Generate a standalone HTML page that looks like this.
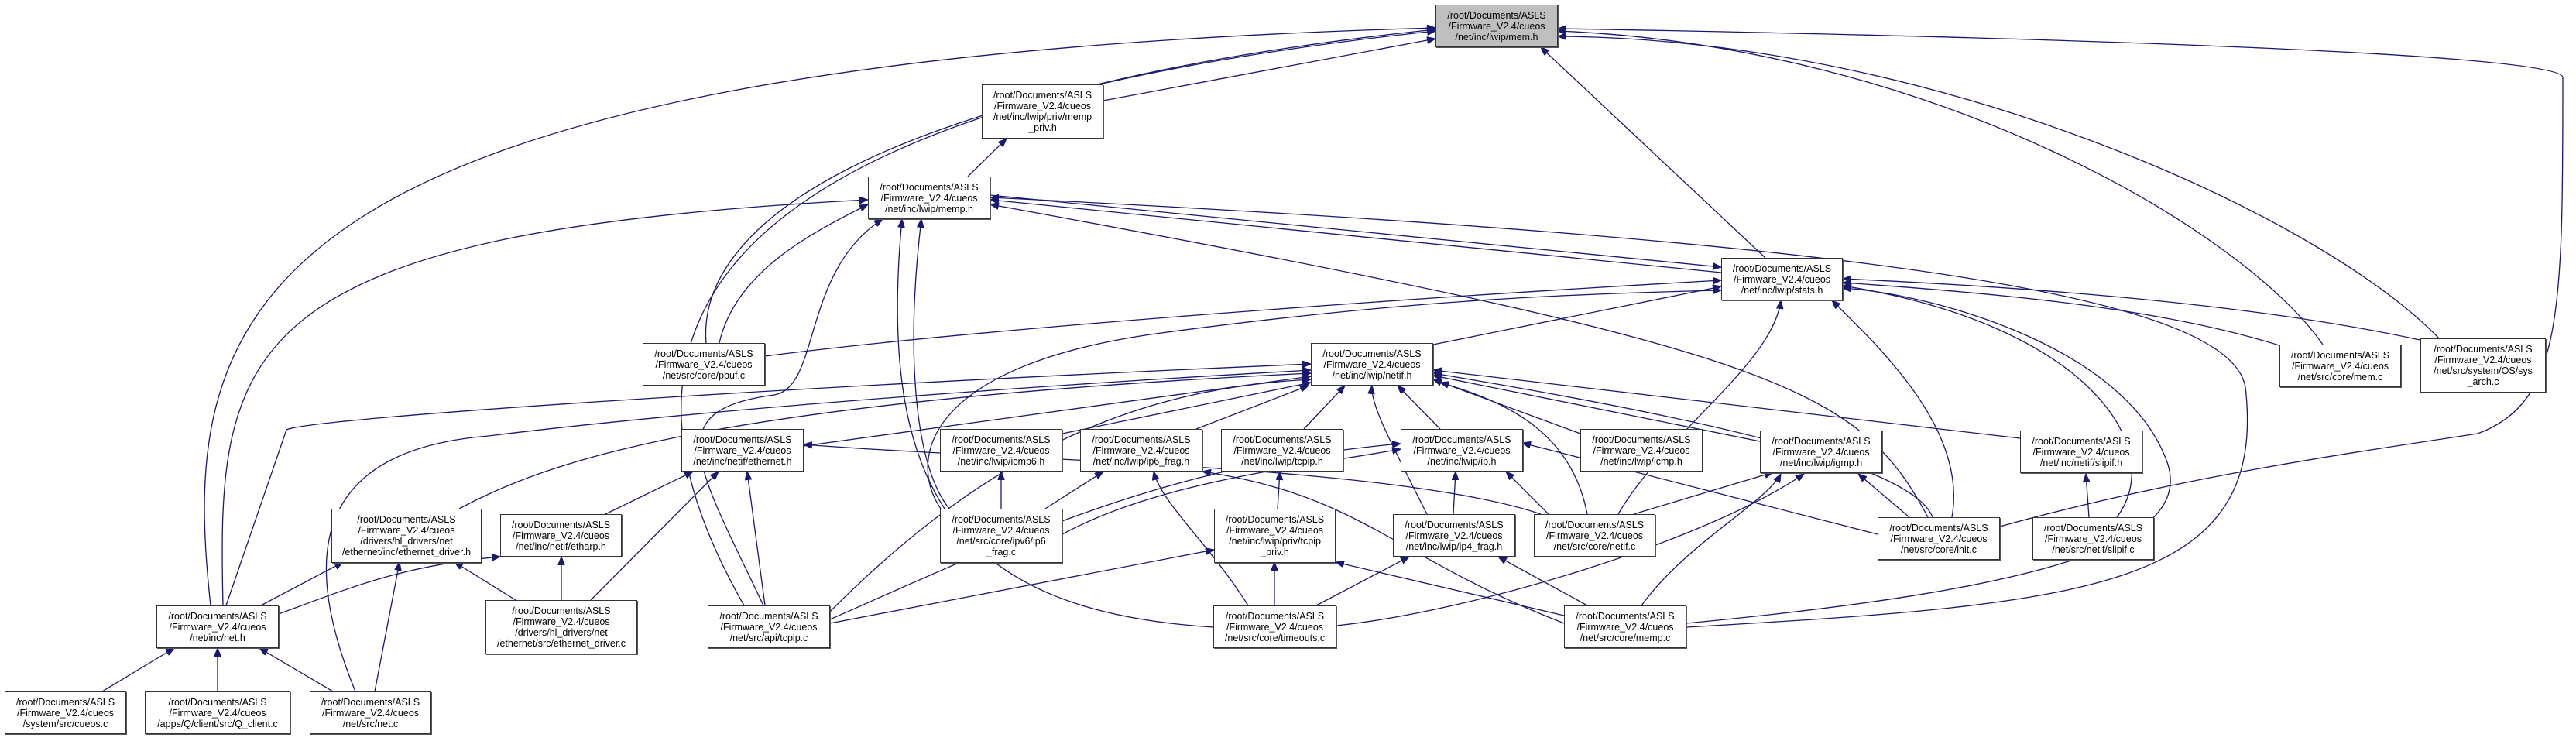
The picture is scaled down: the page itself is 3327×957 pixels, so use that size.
<!DOCTYPE html>
<html><head><meta charset="utf-8">
<style>
html,body{margin:0;padding:0;background:#fff;}
body{width:3327px;height:957px;position:relative;overflow:hidden;font-family:"Liberation Sans",Arial,sans-serif;}
.n{position:absolute;box-sizing:border-box;border:1.5px solid #333;background:#fff;display:flex;align-items:center;justify-content:center;text-align:center;font-size:12.5px;line-height:14px;color:#000;box-shadow:1px 1px 0 #555;}
.g{background:#bfbfbf;}
svg{position:absolute;left:0;top:0;}
path{fill:none;stroke:#191970;stroke-width:1.3;}
</style></head><body>
<svg width="3327" height="957" viewBox="0 0 3327 957">
<defs><marker id="a" markerUnits="userSpaceOnUse" markerWidth="12" markerHeight="9" refX="11" refY="4.5" orient="auto"><path d="M0,0 L11,4.5 L0,9 z" style="fill:#191970;stroke:#191970;stroke-width:1"/></marker></defs>
<g marker-end="url(#a)">
<!-- to mem.h -->
<path d="M272,782 C230,400 300,80 1854,36"/>
<path d="M912,443 C900,300 1100,120 1854,40"/>
<path d="M961,782 C800,500 780,150 1854,38"/>
<path d="M1425,130 L1854,50"/>
<path d="M2280,333 L1990,61"/>
<path d="M2583,680 C2800,620 3000,590 3200,560 C3310,520 3310,400 3310,100 C3310,60 2200,40 2012,37"/>
<path d="M3000,445 C2900,300 2500,60 2012,40"/>
<path d="M3150,437 C3000,280 2500,50 2012,47"/>
<!-- memp_priv -->
<path d="M1250,228 L1300,179"/>
<!-- to memp.h -->
<path d="M288,782 C280,450 300,300 1121,258"/>
<path d="M929,443 C950,350 1050,300 1121,264"/>
<path d="M986,782 C900,600 850,530 1000,510 C1060,500 1035,350 1140,283"/>
<path d="M1226,657 C1180,600 1170,450 1190,283"/>
<path d="M1567,810 C1250,790 1130,650 1165,283"/>
<path d="M2223,352 L1279,258"/>
<path d="M2490,668 C2400,500 2300,450 1279,264"/>
<path d="M2178,810 C2700,780 2930,760 2900,500 C2880,380 2400,310 1279,255"/>
<!-- to stats.h -->
<path d="M1279,252 L2223,345"/>
<path d="M988,460 C1300,420 1900,380 2223,362"/>
<path d="M1851,445 L2223,370"/>
<path d="M1215,657 C1170,590 1200,470 1500,430 C1800,390 2000,380 2223,375"/>
<path d="M2090,664 C2150,560 2290,470 2300,388"/>
<path d="M2521,668 C2540,560 2440,460 2366,388"/>
<path d="M2950,448 C2800,400 2600,380 2380,365"/>
<path d="M3130,440 C2900,390 2600,370 2380,360"/>
<path d="M2734,668 C2800,580 2700,420 2380,369"/>
<path d="M2178,805 C2650,760 2830,700 2800,600 C2750,450 2500,380 2380,372"/>
<!-- to netif.h -->
<path d="M292,782 L370,555 C400,540 1000,500 1693,470"/>
<path d="M459,893 C380,700 420,580 631,563 C900,530 1300,500 1693,478"/>
<path d="M593,657 C700,600 900,520 1693,482"/>
<path d="M1038,576 L1693,486"/>
<path d="M1072,790 C1300,560 1500,500 1693,490"/>
<path d="M1372,560 L1693,494"/>
<path d="M1545,554 L1690,498"/>
<path d="M1684,554 L1737,498"/>
<path d="M1860,554 L1805,498"/>
<path d="M1843,664 C1790,560 1770,520 1772,498"/>
<path d="M2050,664 C2030,560 1950,520 1860,494"/>
<path d="M2041,560 L1851,490"/>
<path d="M2273,570 L1851,485"/>
<path d="M2609,566 L1851,478"/>
<path d="M2496,668 C2470,600 2200,540 1851,482"/>
<!-- net.h -->
<path d="M132,893 L225,837"/>
<path d="M281,893 L281,837"/>
<path d="M430,893 L335,837"/>
<path d="M337,782 L443,726"/>
<path d="M360,793 C450,760 520,730 646,719"/>
<!-- ethernet_driver / etharp / ethernet -->
<path d="M484,893 L516,726"/>
<path d="M666,775 L587,726"/>
<path d="M725,775 L725,719"/>
<path d="M763,775 L928,609"/>
<path d="M782,664 L895,609"/>
<path d="M988,782 L965,609"/>
<path d="M1990,664 C1800,600 1300,595 1038,574"/>
<!-- ip.h -->
<path d="M1072,800 C1300,700 1500,600 1809,573"/>
<path d="M1372,690 C1500,620 1700,600 1809,580"/>
<path d="M1877,664 L1880,609"/>
<path d="M2000,664 L1945,609"/>
<path d="M2425,690 L1966,572"/>
<!-- tcpip_priv -->
<path d="M1072,805 L1568,710"/>
<path d="M1646,782 L1646,726"/>
<path d="M2020,795 L1725,726"/>
<!-- icmp6 / ip6frag -->
<path d="M1293,657 L1293,609"/>
<path d="M1350,657 L1425,609"/>
<path d="M1612,782 C1560,700 1500,650 1490,609"/>
<path d="M2020,805 C1800,720 1760,640 1553,609"/>
<path d="M1650,657 L1653,609"/>
<!-- ip4frag -->
<path d="M1700,782 L1820,719"/>
<path d="M2050,782 L1935,719"/>
<!-- igmp -->
<path d="M2110,664 L2290,610"/>
<path d="M2466,668 L2400,612"/>
<path d="M1726,808 C1900,790 2200,700 2330,612"/>
<path d="M2120,782 C2180,700 2280,650 2300,612"/>
<!-- slipif -->
<path d="M2698,668 L2694,612"/>
</g>
</svg>
<div class="n g" style="left:1854px;top:6px;width:158px;height:55px">/root/Documents/ASLS<br>/Firmware_V2.4/cueos<br>/net/inc/lwip/mem.h</div>
<div class="n" style="left:1268px;top:109px;width:157px;height:70px">/root/Documents/ASLS<br>/Firmware_V2.4/cueos<br>/net/inc/lwip/priv/memp<br>_priv.h</div>
<div class="n" style="left:1121px;top:228px;width:158px;height:55px">/root/Documents/ASLS<br>/Firmware_V2.4/cueos<br>/net/inc/lwip/memp.h</div>
<div class="n" style="left:2223px;top:333px;width:157px;height:55px">/root/Documents/ASLS<br>/Firmware_V2.4/cueos<br>/net/inc/lwip/stats.h</div>
<div class="n" style="left:830px;top:443px;width:158px;height:55px">/root/Documents/ASLS<br>/Firmware_V2.4/cueos<br>/net/src/core/pbuf.c</div>
<div class="n" style="left:1693px;top:443px;width:158px;height:55px">/root/Documents/ASLS<br>/Firmware_V2.4/cueos<br>/net/inc/lwip/netif.h</div>
<div class="n" style="left:2944px;top:445px;width:157px;height:55px">/root/Documents/ASLS<br>/Firmware_V2.4/cueos<br>/net/src/core/mem.c</div>
<div class="n" style="left:3126px;top:437px;width:162px;height:70px">/root/Documents/ASLS<br>/Firmware_V2.4/cueos<br>/net/src/system/OS/sys<br>_arch.c</div>
<div class="n" style="left:880px;top:554px;width:158px;height:55px">/root/Documents/ASLS<br>/Firmware_V2.4/cueos<br>/net/inc/netif/ethernet.h</div>
<div class="n" style="left:1214px;top:554px;width:158px;height:55px">/root/Documents/ASLS<br>/Firmware_V2.4/cueos<br>/net/inc/lwip/icmp6.h</div>
<div class="n" style="left:1395px;top:554px;width:158px;height:55px">/root/Documents/ASLS<br>/Firmware_V2.4/cueos<br>/net/inc/lwip/ip6_frag.h</div>
<div class="n" style="left:1577px;top:554px;width:158px;height:55px">/root/Documents/ASLS<br>/Firmware_V2.4/cueos<br>/net/inc/lwip/tcpip.h</div>
<div class="n" style="left:1809px;top:554px;width:158px;height:55px">/root/Documents/ASLS<br>/Firmware_V2.4/cueos<br>/net/inc/lwip/ip.h</div>
<div class="n" style="left:2041px;top:554px;width:158px;height:55px">/root/Documents/ASLS<br>/Firmware_V2.4/cueos<br>/net/inc/lwip/icmp.h</div>
<div class="n" style="left:2273px;top:556px;width:158px;height:55px">/root/Documents/ASLS<br>/Firmware_V2.4/cueos<br>/net/inc/lwip/igmp.h</div>
<div class="n" style="left:2609px;top:556px;width:158px;height:55px">/root/Documents/ASLS<br>/Firmware_V2.4/cueos<br>/net/inc/netif/slipif.h</div>
<div class="n" style="left:428px;top:657px;width:194px;height:70px">/root/Documents/ASLS<br>/Firmware_V2.4/cueos<br>/drivers/hl_drivers/net<br>/ethernet/inc/ethernet_driver.h</div>
<div class="n" style="left:646px;top:664px;width:157px;height:55px">/root/Documents/ASLS<br>/Firmware_V2.4/cueos<br>/net/inc/netif/etharp.h</div>
<div class="n" style="left:1214px;top:657px;width:158px;height:70px">/root/Documents/ASLS<br>/Firmware_V2.4/cueos<br>/net/src/core/ipv6/ip6<br>_frag.c</div>
<div class="n" style="left:1568px;top:657px;width:157px;height:70px">/root/Documents/ASLS<br>/Firmware_V2.4/cueos<br>/net/inc/lwip/priv/tcpip<br>_priv.h</div>
<div class="n" style="left:1799px;top:664px;width:158px;height:55px">/root/Documents/ASLS<br>/Firmware_V2.4/cueos<br>/net/inc/lwip/ip4_frag.h</div>
<div class="n" style="left:1981px;top:664px;width:157px;height:55px">/root/Documents/ASLS<br>/Firmware_V2.4/cueos<br>/net/src/core/netif.c</div>
<div class="n" style="left:2425px;top:668px;width:158px;height:55px">/root/Documents/ASLS<br>/Firmware_V2.4/cueos<br>/net/src/core/init.c</div>
<div class="n" style="left:2625px;top:668px;width:157px;height:55px">/root/Documents/ASLS<br>/Firmware_V2.4/cueos<br>/net/src/netif/slipif.c</div>
<div class="n" style="left:627px;top:775px;width:196px;height:70px">/root/Documents/ASLS<br>/Firmware_V2.4/cueos<br>/drivers/hl_drivers/net<br>/ethernet/src/ethernet_driver.c</div>
<div class="n" style="left:202px;top:782px;width:158px;height:55px">/root/Documents/ASLS<br>/Firmware_V2.4/cueos<br>/net/inc/net.h</div>
<div class="n" style="left:914px;top:782px;width:158px;height:55px">/root/Documents/ASLS<br>/Firmware_V2.4/cueos<br>/net/src/api/tcpip.c</div>
<div class="n" style="left:1567px;top:782px;width:159px;height:55px">/root/Documents/ASLS<br>/Firmware_V2.4/cueos<br>/net/src/core/timeouts.c</div>
<div class="n" style="left:2020px;top:782px;width:158px;height:55px">/root/Documents/ASLS<br>/Firmware_V2.4/cueos<br>/net/src/core/memp.c</div>
<div class="n" style="left:6px;top:893px;width:157px;height:55px">/root/Documents/ASLS<br>/Firmware_V2.4/cueos<br>/system/src/cueos.c</div>
<div class="n" style="left:187px;top:893px;width:188px;height:55px">/root/Documents/ASLS<br>/Firmware_V2.4/cueos<br>/apps/Q/client/src/Q_client.c</div>
<div class="n" style="left:400px;top:893px;width:157px;height:55px">/root/Documents/ASLS<br>/Firmware_V2.4/cueos<br>/net/src/net.c</div>
</body></html>
